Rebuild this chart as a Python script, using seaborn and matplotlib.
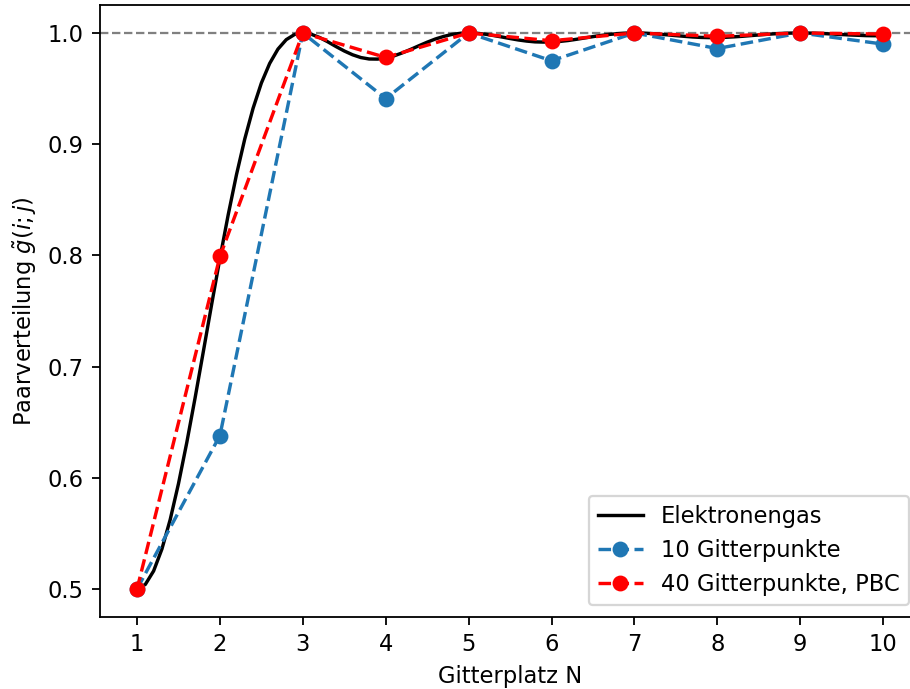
import numpy as np
import matplotlib
matplotlib.use("Agg")
import matplotlib.pyplot as plt
import seaborn as sns

# Data
gas_x = np.linspace(1, 10, 91)
gas_g = [0.5000, 0.5041, 0.5162, 0.5359, 0.5624, 0.5947, 0.6316, 0.6717, 0.7136, 0.7559,
         0.7974, 0.8366, 0.8727, 0.9048, 0.9323, 0.9550, 0.9726, 0.9855, 0.9940, 0.9986,
         1.0000, 0.9989, 0.9960, 0.9921, 0.9878, 0.9838, 0.9804, 0.9779, 0.9766, 0.9765,
         0.9775, 0.9794, 0.9821, 0.9852, 0.9885, 0.9917, 0.9946, 0.9969, 0.9987, 0.9997,
         1.0000, 0.9997, 0.9989, 0.9977, 0.9964, 0.9950, 0.9937, 0.9927, 0.9920, 0.9918,
         0.9919, 0.9924, 0.9932, 0.9943, 0.9955, 0.9967, 0.9978, 0.9987, 0.9994, 0.9999,
         1.0000, 0.9999, 0.9995, 0.9989, 0.9983, 0.9976, 0.9970, 0.9964, 0.9960, 0.9958,
         0.9959, 0.9961, 0.9965, 0.9970, 0.9976, 0.9982, 0.9988, 0.9993, 0.9997, 0.9999,
         1.0000, 0.9999, 0.9997, 0.9994, 0.9990, 0.9986, 0.9982, 0.9979, 0.9976, 0.9975,
         0.9975]

sites = [1, 2, 3, 4, 5, 6, 7, 8, 9, 10]
g10 = [0.500, 0.638, 1.000, 0.941, 1.000, 0.975, 1.000, 0.986, 1.000, 0.990]
g40 = [0.500, 0.799, 1.000, 0.978, 1.000, 0.993, 1.000, 0.997, 1.000, 0.999]

labels = ["Elektronengas", "10 Gitterpunkte", "40 Gitterpunkte, PBC"]

plt.rcParams['font.family'] = ['DejaVu Sans']

DPI = 163
fig = plt.figure(figsize=(910 / DPI, 689 / DPI), dpi=DPI)
ax = fig.add_axes([0.1096, 0.1048, 0.9018, 0.8877])

ax.axhline(1.0, color="gray", linestyle="--", linewidth=1, zorder=1)

sns.lineplot(x=gas_x, y=gas_g, ax=ax, color="black", linewidth=1.5,
             label=labels[0], sort=False, zorder=2)
sns.lineplot(x=sites, y=g10, ax=ax, color="#1f77b4", linewidth=1.5,
             linestyle="--", marker="o", markersize=6, markeredgecolor="#1f77b4",
             markeredgewidth=1, label=labels[1], zorder=3)
sns.lineplot(x=sites, y=g40, ax=ax, color="red", linewidth=1.5,
             linestyle="--", marker="o", markersize=6, markeredgecolor="red",
             markeredgewidth=1, label=labels[2], zorder=4)

ax.set_xlim(0.55, 10.45)
ax.set_ylim(0.475, 1.025)
ax.set_xticks(sites)
ax.set_yticks([0.5, 0.6, 0.7, 0.8, 0.9, 1.0])
ax.set_xlabel("Gitterplatz N")
ax.set_ylabel(r"Paarverteilung $\tilde{g}(i;j)$")
ax.legend(loc="lower right")

fig.savefig("out.png", dpi=DPI)
